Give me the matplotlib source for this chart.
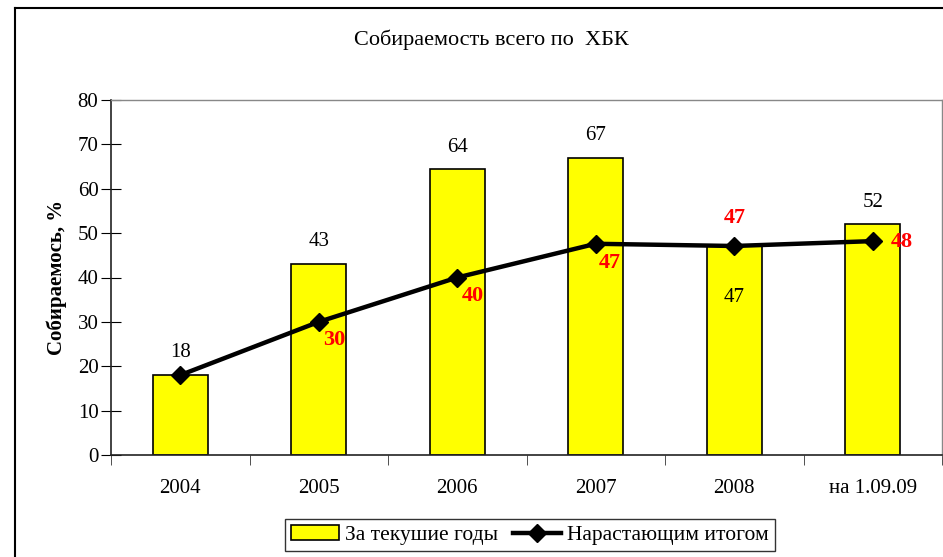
import matplotlib
matplotlib.use("Agg")
import matplotlib.pyplot as plt
from matplotlib.lines import Line2D

categories = ["2004", "2005", "2006", "2007", "2008", "на 1.09.09"]
current_years = [18, 43, 64.4, 66.9, 47, 52]
current_labels = ["18", "43", "64", "67", "47", "52"]
cumulative = [18, 30, 40, 47.6, 47.1, 48.2]
cumulative_labels = ["", "30", "40", "47", "47", "48"]

plt.rcParams["font.family"] = ["Liberation Serif", "DejaVu Serif"]

fig = plt.figure(figsize=(9.43, 5.57), dpi=100)
ax = fig.add_axes([111 / 943, 102 / 557, 831 / 943, 355 / 557])

x = list(range(len(categories)))
bars = ax.bar(x, current_years, width=0.4, color="#FFFF00", edgecolor="black", lw=1.2,
              label="За текушие годы", zorder=2)
line, = ax.plot(x, cumulative, color="black", lw=3.2, marker="D", ms=9.5,
                label="Нарастающим итогом", zorder=3)

# bar value labels
for i, (v, t) in enumerate(zip(current_years, current_labels)):
    if i == 4:
        ax.text(i, 35.6, t, ha="center", va="center", fontsize=15)
    else:
        ax.text(i, v + 5, t, ha="center", va="center", fontsize=15)

# cumulative labels, red bold
offsets = {1: (0.03, -4.1, "left"), 2: (0.03, -4.2, "left"), 3: (0.02, -4.3, "left"),
           4: (0, 6.3, "center"), 5: (0.13, -0.2, "left")}
for i, t in enumerate(cumulative_labels):
    if not t:
        continue
    dx, dy, ha = offsets[i]
    ax.text(i + dx, cumulative[i] + dy, t, ha=ha, va="center", fontsize=16,
            color="#FF0000", fontweight="bold")

ax.set_xlim(-0.5, 5.5)
ax.set_ylim(0, 80)
ax.set_yticks(range(0, 81, 10))
ax.set_xticks(x)
ax.set_xticklabels(categories)
ax.set_xticks([i + 0.5 for i in range(-1, 6)], minor=True)
ax.tick_params(axis="x", which="major", length=0, pad=17, labelsize=15)
ax.tick_params(axis="x", which="minor", length=7, direction="out", color="#333333")
ax.tick_params(axis="y", length=14, direction="inout", labelsize=15, pad=2)
for s in ["top", "right"]:
    ax.spines[s].set_color("#888888")
    ax.spines[s].set_linewidth(1)
for s in ["left", "bottom"]:
    ax.spines[s].set_color("#222222")
    ax.spines[s].set_linewidth(1.2)

ax.set_ylabel("Собираемось, %", fontsize=15, fontweight="bold", labelpad=8)
fig.text(491 / 943, 1 - 40 / 557, "Собираемость всего по  ХБК", ha="center",
         va="center", fontsize=16)

leg = fig.legend([bars, line], ["За текушие годы", "Нарастающим итогом"],
                 loc="center", bbox_to_anchor=(530 / 943, 1 - 535 / 557), ncol=2,
                 fontsize=15.5, frameon=True, fancybox=False, edgecolor="black",
                 handlelength=2.2, handletextpad=0.3, columnspacing=0.7,
                 borderpad=0.3)
leg.get_frame().set_linewidth(1)

# outer chart frame
fig.add_artist(Line2D([15 / 943, 15 / 943], [0, 1 - 8 / 557], color="black", lw=1.5))
fig.add_artist(Line2D([15 / 943, 1], [1 - 8 / 557, 1 - 8 / 557], color="black", lw=1.5))

fig.savefig("out.png", dpi=100)
